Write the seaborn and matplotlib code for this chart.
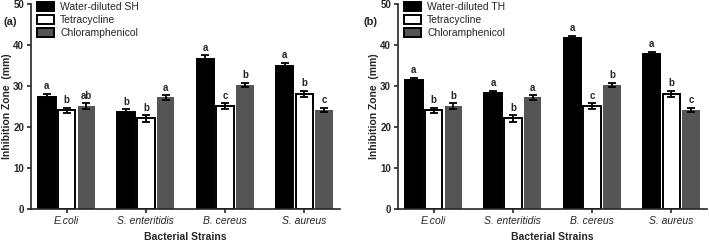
import numpy as np
import pandas as pd
import matplotlib
matplotlib.use("Agg")
import matplotlib.pyplot as plt
import seaborn as sns

# Data
strains = ["E.coli", "S. enteritidis", "B. cereus", "S. aureus"]
treatments_a = ["Water-diluted SH", "Tetracycline", "Chloramphenicol"]
treatments_b = ["Water-diluted TH", "Tetracycline", "Chloramphenicol"]

extract_a = [27.3, 23.6, 36.7, 34.8]
extract_a_err = [0.8, 0.7, 0.8, 0.9]
extract_b = [31.4, 28.3, 41.8, 37.9]
extract_b_err = [0.6, 0.5, 0.5, 0.5]
tetra = [24.1, 22.1, 25.1, 28.1]
tetra_err = [0.6, 0.8, 0.7, 0.7]
chlor = [25.1, 27.2, 30.3, 24.2]
chlor_err = [0.7, 0.5, 0.5, 0.5]

letters_a = [["a", "b", "ab"], ["b", "b", "a"], ["a", "c", "b"], ["a", "b", "c"]]
letters_b = [["a", "b", "b"], ["a", "b", "a"], ["a", "c", "b"], ["a", "b", "c"]]

sns.set_style("ticks")
plt.rcParams["font.family"] = ["Liberation Sans", "DejaVu Sans"]

colors = ["#000000", "#ffffff", "#555555"]


def draw_panel(ax, treatments, extract, extract_err, letters, tag, tag_x):
    series = [extract, tetra, chlor]
    errs = [extract_err, tetra_err, chlor_err]
    df = pd.DataFrame({
        "Strain": np.tile(strains, 3),
        "Treatment": np.repeat(treatments, 4),
        "Zone": np.concatenate(series),
    })
    sns.barplot(data=df, x="Strain", y="Zone", hue="Treatment", order=strains,
                hue_order=treatments, palette=colors, width=0.75, gap=0.12,
                errorbar=None, edgecolor="black", linewidth=1.4, saturation=1,
                ax=ax)
    bars = list(ax.containers)
    # error bars and letters on top of each bar
    for j, cont in enumerate(bars):
        for i, bar in enumerate(cont):
            xc = bar.get_x() + bar.get_width() / 2
            h = bar.get_height()
            e = errs[j][i]
            ax.errorbar(xc, h, yerr=e, fmt="none", ecolor="black",
                        elinewidth=1.3, capsize=3, capthick=1.3, zorder=5)
            ax.text(xc, h + e + 0.6, letters[i][j], ha="center", va="bottom",
                    fontsize=7, fontweight="bold")
            if j == 2:
                bar.set_linewidth(0)
    ax.set_xlim(-0.45, 3.45)
    ax.set_ylim(0, 50)
    ax.set_yticks([0, 10, 20, 30, 40, 50])
    ax.set_ylabel("Inhibition Zone  (mm)", fontsize=7.5, fontweight="bold", labelpad=1)
    ax.set_xlabel("Bacterial Strains", fontsize=7.5, fontweight="bold", labelpad=4)
    for lab in ax.get_yticklabels():
        lab.set_fontweight("bold")
        lab.set_fontsize(7)
    for lab in ax.get_xticklabels():
        lab.set_fontstyle("italic")
        lab.set_fontsize(7.5)
    ax.tick_params(width=1.2, length=3, pad=2)
    for s in ["left", "bottom"]:
        ax.spines[s].set_linewidth(1.2)
    sns.despine(ax=ax)
    ax.legend(loc="upper left", bbox_to_anchor=(0.0, 1.04), frameon=False,
              fontsize=7.5, handlelength=1.6, handleheight=0.9,
              handletextpad=0.6, labelspacing=0.3, borderaxespad=0.2)
    ax.text(tag_x, 0.91, tag, transform=ax.transAxes, fontsize=8,
            fontweight="bold", ha="center", va="center")


fig = plt.figure(figsize=(7.09, 2.44), dpi=100)
ax1 = fig.add_axes([31 / 709, 35 / 244, 309 / 709, 205 / 244])
ax2 = fig.add_axes([398 / 709, 35 / 244, 309 / 709, 205 / 244])

draw_panel(ax1, treatments_a, extract_a, extract_a_err, letters_a, "(a)", -0.068)
draw_panel(ax2, treatments_b, extract_b, extract_b_err, letters_b, "(b)", -0.09)

fig.savefig("out.png", dpi=100)
